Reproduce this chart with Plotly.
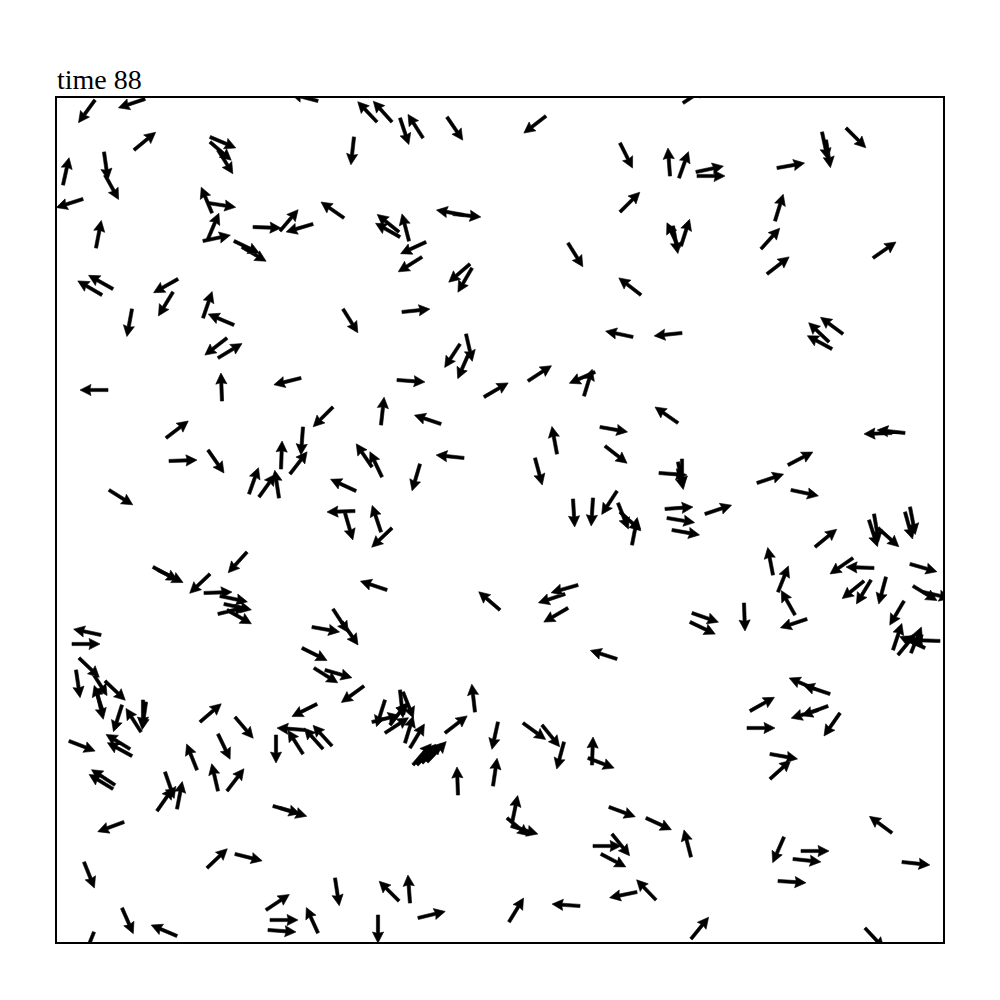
import numpy as np
import plotly.graph_objects as go

# particle positions (box units) and heading vectors
x = [38, 88, 77, 153, 153, 161, 47, 48, 6, 26, 155, 151, 151, 146, 196, 177, 185, 39, 56, 45, 121, 116, 75, 146, 177, 170, 161,
     261, 320, 335, 343, 366, 390, 297, 287, 223, 256, 343, 342, 352, 369, 365, 407, 396, 413, 415, 345, 286, 409, 412, 403, 244, 340,
     626, 489, 563, 613, 622, 639, 640, 563, 616, 624, 622, 511, 584, 576, 625, 471, 538, 527, 427,
     765, 769, 789, 720, 718, 704, 710, 816, 786, 772, 775,
     51, 165, 109, 112, 151, 192, 202, 222, 224, 52, 96, 101, 190, 153, 147, 163, 167, 161, 170, 44, 15,
     276, 324, 384, 246, 233, 315, 325, 407, 363, 299, 298, 288, 324, 335, 330, 443, 276, 285, 255, 245,
     621, 543, 500, 548, 478, 602, 625, 621, 516, 536, 560, 561, 575, 563, 608, 610, 615, 648, 521, 508, 511, 635, 633, 560,
     848, 835, 731, 700, 734, 758, 817, 812, 821, 853, 848, 716, 721, 738, 750, 687, 796, 817, 807, 814, 829, 853, 856, 866, 847,
     836, 841, 854, 868, 883,
     22, 19, 35, 48, 40, 46, 65, 86, 89, 84, 12, 73, 75, 58, 56, 143, 178, 161, 219, 140, 161, 170, 108, 100, 120, 67, 27, 150,
     178, 65, 120, 37, 209, 213, 211,
     257, 268, 307, 260, 248, 246, 266, 275, 328, 343, 346, 315, 328, 333, 348, 353, 356, 360, 365, 370, 388, 418, 441, 436, 401,
     216, 223, 278, 342, 353, 361, 261, 321,
     466, 485, 507, 535, 531, 455, 450, 454, 552, 589, 634, 536, 555, 544, 599, 580, 452, 523, 634,
     773, 758, 693, 771, 761, 690, 783, 713, 713, 835, 727, 744, 736, 721, 845, 808]
y = [842, 843, 792, 805, 800, 792, 790, 767, 757, 743, 729, 739, 703, 701, 715, 701, 695, 694, 653, 647, 663, 650, 633, 624, 617, 604, 584,
     841, 820, 820, 824, 804, 825, 805, 724, 711, 718, 705, 710, 701, 700, 685, 727, 728, 678, 674, 630, 633, 608, 589, 598, 564, 562,
     839, 826, 799, 766, 764, 770, 766, 730, 716, 696, 694, 699, 647, 605, 609, 561, 570, 546, 545,
     810, 802, 814, 774, 721, 693, 668, 684, 608, 600, 593,
     552, 541, 504, 481, 492, 448, 445, 444, 473, 452, 375, 372, 390, 368, 349, 346, 338, 328, 332, 307, 298,
     535, 517, 518, 515, 468, 475, 465, 484, 478, 451, 431, 429, 410, 414, 352, 332, 333, 320, 315, 294,
     519, 515, 488, 496, 484, 469, 483, 480, 443, 444, 451, 439, 397, 430, 433, 424, 412, 428, 357, 348, 334, 329, 320, 283,
     509, 509, 477, 459, 452, 395, 428, 422, 414, 435, 430, 367, 350, 327, 323, 339, 384, 374, 361, 362, 365, 378, 356, 350, 341,
     292, 287, 289, 294, 301,
     284, 272, 270, 261, 250, 230, 237, 242, 240, 210, 201, 193, 186, 157, 153, 220, 225, 208, 207, 172, 151, 151, 170, 131, 133, 120, 80, 74,
     88, 34, 6, 10, 32, 22, 12,
     274, 272, 256, 238, 212, 188, 193, 196, 242, 252, 250, 220, 209, 217, 199, 194, 177, 177, 179, 180, 209, 230, 220, 156, 147,
     136, 134, 64, 41, 39, 24, 9, 27,
     219, 217, 200, 177, 184, 119, 124, 116, 135, 124, 85, 96, 108, 88, 42, 50, 20, 36, 3,
     248, 253, 231, 236, 232, 214, 229, 188, 163, 109, 105, 91, 83, 61, 80, 14]
u = [-16, -27, 22, 26, 21, 10, 4, 10, 6, -25, -10, 26, 11, 28, 27, 25, 22, 5, -25, -24, -25, -14, -5, 9, -26, -22, 25,
     -27, -19, -18, 8, -14, 15, -3, -23, 17, -27, -25, -21, -7, -26, -24, -28, 28, -21, -14, 29, 15, 6, -11, -15, -24, 28,
     9, -22, 12, -2, 9, 28, 28, 19, 5, 9, -11, 15, -22, -28, -29, 23, -25, 8, 24,
     6, 4, 20, 28, 8, 18, 22, 23, -31, -20, -26,
     -28, -1, 21, 29, 16, 9, 18, -4, 1, 24, 24, 24, -19, -20, 29, 28, 28, 24, 23, -28, 30,
     -20, 3, -27, -2, 17, -15, -12, -28, -8, -26, -28, 7, -9, -20, -27, -21, 15, 14, 28, 26,
     -23, 28, -5, 23, 7, 27, 0, 5, 2, -2, -15, 10, 5, 20, 28, 30, 28, 27, -28, -27, -24, 26, 25, -28,
     -28, -29, 25, 27, 28, 22, 5, 8, 20, 5, 7, -5, 10, -13, -27, 1, -23, -28, -21, -14, -7, 28, 23, 22, -13,
     9, 19, 10, -22, -27,
     21, 4, 16, 20, 6, -8, -8, 0, -4, -14, 26, -23, -24, -23, -23, 21, 18, 12, 0, -10, -6, 16, 8, 16, 5, -27, 10, 20,
     28, 11, -26, -10, 24, 28, 28,
     24, 28, -22, -26, -28, -14, -17, -22, -8, 3, 10, 28, 23, 13, 7, 15, 19, 20, 20, 16, 22, -3, -6, 4, -1,
     28, 26, 4, -20, -2, 29, -11, 0,
     22, 17, -7, 1, 26, 5, 22, 20, 27, 26, -7, 29, 17, 25, -24, -29, 14, -29, 17,
     -27, -26, 25, -27, -23, 29, -16, 28, 20, -23, -11, 28, 29, 30, 28, 13]
v = [-22, -9, 18, -11, -18, -16, -28, -18, 27, -8, 24, -4, 26, 6, -1, -12, -13, 26, 14, 14, -14, -23, -27, 26, 11, -17, 15,
     7, 20, 20, -24, 22, -22, -27, 16, 20, -8, 14, 17, 27, -12, -15, 5, -3, -18, -24, 3, -24, -26, -25, -23, -6, -2,
     6, -17, -24, 27, 25, 6, 0, 19, -28, 28, 23, -24, 17, 6, -3, 15, -11, 26, 14,
     -28, -25, -20, 5, 26, 20, 17, 16, 23, 19, 14,
     0, 26, 16, 1, -23, 25, 25, 26, 26, -15, -13, -12, -21, -19, 1, -6, -6, 6, -13, 6, 0,
     -20, 27, 9, -27, 22, 22, 25, 3, -27, 12, -1, -24, 27, -19, 9, 18, -23, -20, -5, -13,
     16, -5, 27, -18, -26, -2, -31, -26, -33, -31, -23, -25, 26, -18, 2, -5, -5, 9, -8, -9, -14, -9, -12, 9,
     3, -1, 13, 9, -6, 18, -29, -25, -18, -26, -25, 26, 25, 23, -9, -28, -16, 1, -17, -23, -26, -8, -14, -5, -22,
     27, 23, 25, 10, 1,
     -20, -27, -25, -19, -26, 24, -25, -33, -28, 22, -10, 14, 13, 15, 14, 18, -21, -25, -27, 25, 26, 21, -23, 23, 26, -10, -25, 19,
     -7, -25, 11, -25, 16, 0, -2,
     -15, -8, -16, -13, 2, 22, 19, 24, -25, -28, -25, 7, 15, 17, 23, 25, 22, 22, 20, 17, 17, 26, -27, 27, 27,
     -8, -8, -26, 20, 27, 7, 24, -27,
     -16, -21, -26, 27, -10, 24, -18, -6, -10, -12, 27, 0, -21, -13, 25, -6, 23, 2, 21,
     9, 11, 14, -10, -7, 0, -23, -5, 18, 17, -25, 0, -3, -2, -3, -14]

BOX_W, BOX_H = 886, 844
ARROW_LEN = 28.0
HEAD_LEN = 11.0
HEAD_AXIS = 10.0
HEAD_HALF = 5.6
SHAFT_HALF = 1.6

xa, ya, ua, va = (np.asarray(a, dtype=float) for a in (x, y, u, v))
norm = np.hypot(ua, va)
dx, dy = ua / norm, va / norm
nx, ny = -dy, dx

px, py = [], []
for i in range(len(xa)):
    tx, ty = xa[i], ya[i]
    ex, ey = dx[i], dy[i]
    ox, oy = nx[i], ny[i]
    bx, by = tx + ex * (ARROW_LEN - HEAD_AXIS), ty + ey * (ARROW_LEN - HEAD_AXIS)
    hbx, hby = tx + ex * (ARROW_LEN - HEAD_LEN), ty + ey * (ARROW_LEN - HEAD_LEN)
    tipx, tipy = tx + ex * ARROW_LEN, ty + ey * ARROW_LEN
    pts = [
        (tx + ox * SHAFT_HALF, ty + oy * SHAFT_HALF),
        (bx + ox * SHAFT_HALF, by + oy * SHAFT_HALF),
        (hbx + ox * HEAD_HALF, hby + oy * HEAD_HALF),
        (tipx, tipy),
        (hbx - ox * HEAD_HALF, hby - oy * HEAD_HALF),
        (bx - ox * SHAFT_HALF, by - oy * SHAFT_HALF),
        (tx - ox * SHAFT_HALF, ty - oy * SHAFT_HALF),
        (tx + ox * SHAFT_HALF, ty + oy * SHAFT_HALF),
    ]
    for p in pts:
        px.append(p[0])
        py.append(p[1])
    px.append(None)
    py.append(None)

fig = go.Figure()
fig.add_trace(go.Scatter(
    x=px, y=py, mode="lines", fill="toself",
    fillcolor="black", line=dict(color="black", width=0.6),
    hoverinfo="skip", showlegend=False,
))

fig.update_xaxes(range=[0, BOX_W], showgrid=False, zeroline=False, showticklabels=False,
                 ticks="", showline=True, linecolor="black", linewidth=1.5, mirror=True)
fig.update_yaxes(range=[0, BOX_H], showgrid=False, zeroline=False, showticklabels=False,
                 ticks="", showline=True, linecolor="black", linewidth=1.5, mirror=True)

fig.add_annotation(text="time 88", xref="paper", yref="paper", x=0, y=1,
                   xanchor="left", yanchor="bottom", xshift=-2, yshift=1, showarrow=False,
                   font=dict(family="Liberation Serif, Times New Roman, serif", size=28, color="black"))

fig.update_layout(width=1000, height=1000, margin=dict(l=49, r=65, t=90, b=66),
                  plot_bgcolor="white", paper_bgcolor="white")

fig.write_html("out.html")
